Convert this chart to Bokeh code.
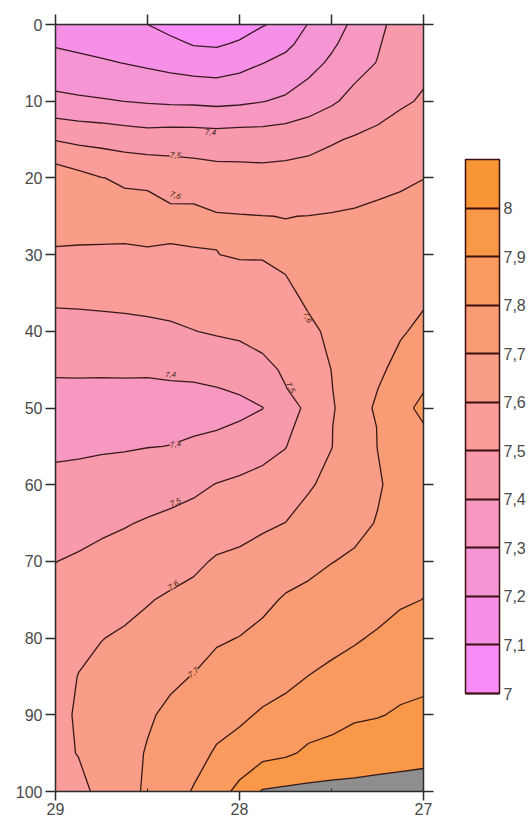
import numpy as np
from bokeh.plotting import figure
from bokeh.models import (Range1d, LinearAxis, FixedTicker, ColorBar, LinearColorMapper,
                          CustomJSTickFormatter, ColumnDataSource)
from bokeh.core.properties import value
from bokeh.embed import file_html
from bokeh.resources import INLINE

# ---------------- values ----------------
x_values = [29.0, 28.875, 28.75, 28.625, 28.5, 28.375, 28.25, 28.125, 28.0,
            27.875, 27.75, 27.625, 27.5, 27.375, 27.25, 27.125, 27.0]
y_values = [0, 2.5, 5, 10, 15, 20, 25, 30, 35, 40, 45, 47.5, 50, 52.5, 55,
            60, 65, 70, 75, 80, 85, 90, 95, 100]

z_y0 = [7.16, 7.145, 7.13, 7.115, 7.10, 7.07, 7.05, 7.05, 7.06, 7.095, 7.12, 7.205, 7.26, 7.318, 7.38, 7.43, 7.47]
z_y2_5 = [7.192, 7.181, 7.17, 7.156, 7.142, 7.121, 7.094, 7.088, 7.11, 7.14, 7.179, 7.233, 7.284, 7.343, 7.392, 7.44, 7.478]
z_y5 = [7.23, 7.221, 7.21, 7.198, 7.185, 7.17, 7.156, 7.151, 7.17, 7.198, 7.225, 7.266, 7.316, 7.367, 7.403, 7.45, 7.485]
z_y10 = [7.325, 7.315, 7.308, 7.299, 7.291, 7.285, 7.283, 7.276, 7.283, 7.297, 7.315, 7.351, 7.387, 7.428, 7.464, 7.49, 7.507]
z_y15 = [7.495, 7.478, 7.47, 7.457, 7.448, 7.455, 7.455, 7.45, 7.455, 7.452, 7.46, 7.47, 7.491, 7.509, 7.522, 7.536, 7.553]
z_y20 = [7.66, 7.63, 7.602, 7.589, 7.58, 7.559, 7.548, 7.538, 7.532, 7.531, 7.533, 7.54, 7.551, 7.563, 7.585, 7.59, 7.599]
z_y25 = [7.665, 7.645, 7.638, 7.63, 7.64, 7.62, 7.625, 7.607, 7.604, 7.601, 7.599, 7.601, 7.605, 7.61, 7.611, 7.618, 7.628]
z_y30 = [7.583, 7.585, 7.586, 7.588, 7.59, 7.592, 7.594, 7.599, 7.606, 7.605, 7.614, 7.624, 7.63, 7.635, 7.645, 7.642, 7.656]
z_y35 = [7.523, 7.525, 7.529, 7.532, 7.537, 7.541, 7.547, 7.553, 7.561, 7.57, 7.587, 7.614, 7.624, 7.639, 7.654, 7.667, 7.684]
z_y40 = [7.464, 7.466, 7.468, 7.472, 7.477, 7.485, 7.498, 7.509, 7.517, 7.53, 7.545, 7.587, 7.612, 7.633, 7.66, 7.691, 7.72]
z_y45 = [7.407, 7.408, 7.407, 7.408, 7.407, 7.412, 7.419, 7.433, 7.449, 7.478, 7.511, 7.555, 7.601, 7.641, 7.682, 7.729, 7.77]
z_y47_5 = [7.39, 7.39, 7.39, 7.39, 7.39, 7.391, 7.39, 7.397, 7.409, 7.437, 7.497, 7.535, 7.597, 7.652, 7.699, 7.748, 7.795]
z_y50 = [7.37, 7.37, 7.37, 7.371, 7.372, 7.375, 7.37, 7.38, 7.38, 7.398, 7.46, 7.52, 7.589, 7.659, 7.713, 7.774, 7.82]
z_y52_5 = [7.375, 7.376, 7.378, 7.38, 7.385, 7.387, 7.39, 7.395, 7.409, 7.432, 7.478, 7.54, 7.597, 7.654, 7.702, 7.755, 7.795]
z_y55 = [7.385, 7.387, 7.39, 7.393, 7.398, 7.401, 7.411, 7.426, 7.445, 7.469, 7.497, 7.554, 7.598, 7.65, 7.701, 7.74, 7.775]
z_y60 = [7.421, 7.426, 7.436, 7.441, 7.453, 7.465, 7.481, 7.503, 7.517, 7.531, 7.545, 7.59, 7.625, 7.655, 7.692, 7.726, 7.76]
z_y65 = [7.46, 7.471, 7.483, 7.494, 7.508, 7.521, 7.535, 7.557, 7.569, 7.587, 7.601, 7.633, 7.655, 7.68, 7.704, 7.735, 7.765]
z_y70 = [7.499, 7.51, 7.524, 7.537, 7.551, 7.567, 7.583, 7.609, 7.619, 7.634, 7.657, 7.679, 7.698, 7.711, 7.74, 7.76, 7.78]
z_y75 = [7.53, 7.541, 7.56, 7.577, 7.595, 7.611, 7.625, 7.649, 7.66, 7.679, 7.709, 7.721, 7.736, 7.751, 7.766, 7.79, 7.801]
z_y80 = [7.54, 7.572, 7.598, 7.611, 7.625, 7.648, 7.664, 7.69, 7.702, 7.723, 7.747, 7.76, 7.775, 7.791, 7.811, 7.83, 7.839]
z_y85 = [7.55, 7.603, 7.621, 7.642, 7.663, 7.685, 7.703, 7.73, 7.743, 7.765, 7.781, 7.801, 7.819, 7.838, 7.855, 7.869, 7.877]
z_y90 = [7.575, 7.61, 7.635, 7.664, 7.69, 7.717, 7.735, 7.77, 7.786, 7.809, 7.824, 7.854, 7.859, 7.886, 7.894, 7.911, 7.921]
z_y95 = [7.58, 7.603, 7.637, 7.671, 7.706, 7.735, 7.77, 7.809, 7.83, 7.869, 7.885, 7.916, 7.936, 7.953, 7.962, 7.971, 7.976]
z_y100 = [7.565, 7.576, 7.622, 7.668, 7.714, 7.76, 7.806, 7.852, 7.93, 8.008, 8.019, 8.024, 8.027, 8.026, 8.03, 8.031, 8.036]

z_rows = [z_y0, z_y2_5, z_y5, z_y10, z_y15, z_y20, z_y25, z_y30, z_y35, z_y40, z_y45,
          z_y47_5, z_y50, z_y52_5, z_y55, z_y60, z_y65, z_y70, z_y75, z_y80, z_y85,
          z_y90, z_y95, z_y100]

contour_levels = [7.0, 7.1, 7.2, 7.3, 7.4, 7.5, 7.6, 7.7, 7.8, 7.9, 8.0, 8.2]
colorbar_ticks = [7.0, 7.1, 7.2, 7.3, 7.4, 7.5, 7.6, 7.7, 7.8, 7.9, 8.0]
band_colors = ["#F98CF7", "#F690E6", "#F595D3", "#F698C0", "#F89AAC", "#F99C9A",
               "#F99C88", "#F99B74", "#F99A5F", "#F99849", "#F89636"]
above_color = "#8E8E8E"

y_ticks = [0, 10, 20, 30, 40, 50, 60, 70, 80, 90, 100]
x_ticks_top = [29, 28.5, 28, 27.5, 27]
x_ticks_bottom = [29, 28, 27]
x_minor_bottom = [28.5, 27.5]

# contour labels: level shown, and where it sits on its line
label_levels = [7.4, 7.5, 7.6, 7.6, 7.5, 7.4, 7.4, 7.5, 7.6, 7.7]
label_x = [28.158, 28.348, 28.348, 27.63, 27.723, 28.375, 28.348, 28.348, 28.359, 28.25]
label_y = [14.08, 17.08, 22.29, 38.2, 47.33, 45.63, 54.76, 62.32, 73.14, 84.49]
label_angle = [-3, -4, -16, -65, -61, 0, 9, 25, 35, 40]

# ---------------- figure ----------------
FONT = "Liberation Sans"
TXT = "#4a4a4a"
AX = "#2b2b2b"

p = figure(width=531, height=821, x_range=Range1d(29, 27), y_range=Range1d(100, 0),
           x_axis_location=None, y_axis_location=None,
           output_backend="svg", toolbar_location=None,
           min_border_left=55, min_border_right=108, min_border_top=24, min_border_bottom=30)
p.grid.visible = False
p.outline_line_color = None
p.background_fill_color = "white"

xs = np.array(x_values)[::-1]
ys = np.array(y_values, dtype=float)
zz = np.array(z_rows)[:, ::-1]

fill_colors = band_colors[:10] + [above_color]
p.contour(xs, ys, zz, contour_levels, fill_color=fill_colors,
          line_color="#220808", line_width=1.3, line_alpha=0.9)

lab_src = ColumnDataSource(dict(
    x=label_x, y=label_y,
    text=[("%.1f" % v).replace(".", ",") for v in label_levels],
    angle=label_angle,
    bg=[band_colors[int(round((v - 7.0) * 10))] for v in label_levels],
))
p.text(x="x", y="y", text="text", angle="angle", angle_units="deg", source=lab_src,
       text_font=value(FONT), text_font_size="8px", text_font_style="italic",
       text_align="center", text_baseline="middle", text_color="#3a1a1a",
       background_fill_color="bg")


def style_axis(ax, labels=True):
    ax.axis_line_color = AX
    ax.axis_line_width = 1.5
    ax.major_tick_line_color = AX
    ax.major_tick_line_width = 1.5
    ax.minor_tick_line_color = AX
    ax.major_label_text_font = FONT
    ax.major_label_text_font_size = "16px"
    ax.major_label_text_color = TXT
    if not labels:
        ax.formatter = CustomJSTickFormatter(code="return '';")


left = LinearAxis(ticker=FixedTicker(ticks=y_ticks, minor_ticks=[]))
style_axis(left)
left.major_tick_out = 10
left.major_tick_in = 0
left.minor_tick_out = 0
left.minor_tick_in = 0
left.major_label_standoff = 3
p.add_layout(left, "left")

right = LinearAxis(ticker=FixedTicker(ticks=y_ticks, minor_ticks=[]))
style_axis(right, labels=False)
right.major_tick_out = 10
right.major_tick_in = 0
right.minor_tick_out = 0
right.minor_tick_in = 0
p.add_layout(right, "right")

top = LinearAxis(ticker=FixedTicker(ticks=x_ticks_top, minor_ticks=[]))
style_axis(top, labels=False)
top.major_tick_out = 10
top.major_tick_in = 0
top.minor_tick_out = 0
top.minor_tick_in = 0
p.add_layout(top, "above")

bottom = LinearAxis(ticker=FixedTicker(ticks=x_ticks_bottom, minor_ticks=x_minor_bottom))
style_axis(bottom)
bottom.major_tick_out = 9
bottom.major_tick_in = 0
bottom.minor_tick_out = 0
bottom.minor_tick_in = 3
bottom.major_label_standoff = 2
p.add_layout(bottom, "below")

mapper = LinearColorMapper(palette=band_colors, low=7.0, high=8.1)
cb = ColorBar(color_mapper=mapper, ticker=FixedTicker(ticks=colorbar_ticks),
              formatter=CustomJSTickFormatter(code="return (Math.round(tick*10)/10).toString().replace('.', ',');"),
              orientation="vertical", width=34, height=534, location=(410, 98),
              padding=0, margin=0,
              major_tick_in=34, major_tick_out=0,
              major_tick_line_color="#3a1010", major_tick_line_width=2,
              minor_tick_line_color=None,
              bar_line_color="#3a1010", bar_line_width=1.5,
              label_standoff=4,
              major_label_text_font=FONT, major_label_text_font_size="16px",
              major_label_text_color=TXT,
              background_fill_alpha=0, border_line_color=None)
p.add_layout(cb, "center")

open("out.html", "w").write(file_html(p, INLINE))
